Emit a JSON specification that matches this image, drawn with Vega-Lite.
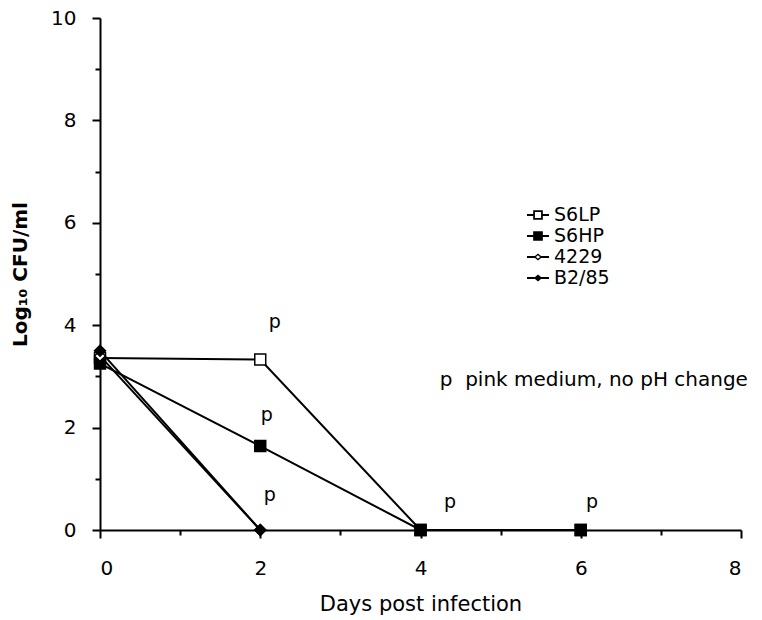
{
  "$schema": "https://vega.github.io/schema/vega-lite/v6.json",
  "width": 641,
  "height": 512,
  "autosize": {"type": "none"},
  "padding": {"left": 100, "top": 18, "right": 21, "bottom": 90},
  "background": "white",
  "config": {
    "view": {"stroke": null},
    "font": "DejaVu Sans",
    "axis": {"domainColor": "black", "domainWidth": 2, "tickColor": "black", "tickWidth": 2, "labelColor": "black", "titleColor": "black", "grid": false, "labelFont": "DejaVu Sans", "titleFont": "DejaVu Sans"}
  },
  "datasets": {
    "series": [
      {"series": "S6LP", "day": 0, "cfu": 3.36},
      {"series": "S6LP", "day": 2, "cfu": 3.33},
      {"series": "S6LP", "day": 4, "cfu": 0},
      {"series": "S6LP", "day": 6, "cfu": 0},
      {"series": "S6HP", "day": 0, "cfu": 3.25},
      {"series": "S6HP", "day": 2, "cfu": 1.64},
      {"series": "S6HP", "day": 4, "cfu": 0},
      {"series": "S6HP", "day": 6, "cfu": 0},
      {"series": "4229", "day": 0, "cfu": 3.4},
      {"series": "4229", "day": 2, "cfu": 0},
      {"series": "B2/85", "day": 0, "cfu": 3.5},
      {"series": "B2/85", "day": 2, "cfu": 0}
    ],
    "notes": [
      {"day": 2.18, "cfu": 4.06, "label": "p"},
      {"day": 2.08, "cfu": 2.25, "label": "p"},
      {"day": 2.12, "cfu": 0.68, "label": "p"},
      {"day": 4.37, "cfu": 0.55, "label": "p"},
      {"day": 6.14, "cfu": 0.55, "label": "p"}
    ],
    "footnote": [
      {"day": 4.24, "cfu": 2.93, "label": "p\u00a0\u00a0pink medium, no pH change"}
    ]
  },
  "resolve": {"scale": {"shape": "independent"}},
  "layer": [
    {
      "data": {"name": "series"},
      "mark": {"type": "line", "color": "black", "strokeWidth": 2},
      "encoding": {
        "x": {"field": "day", "type": "quantitative", "scale": {"domain": [0, 8], "nice": false},
          "axis": {"values": [0,1,2,3,4,5,6,7,8], "format": "d", "labelExpr": "datum.value % 2 === 0 ? datum.label : ''", "tickSize": {"condition": {"test": "datum.value % 2 === 0", "value": 8}, "value": 5}, "labelFontSize": 20, "labelPadding": 20, "title": "Days post infection", "titleFontSize": 21, "titleFontWeight": "normal", "titlePadding": 15}},
        "y": {"field": "cfu", "type": "quantitative", "scale": {"domain": [0, 10], "nice": false},
          "axis": {"values": [0,1,2,3,4,5,6,7,8,9,10], "format": "d", "labelExpr": "datum.value % 2 === 0 ? datum.label : ''", "tickSize": {"condition": {"test": "datum.value % 2 === 0", "value": 8}, "value": 5}, "labelFontSize": 20, "labelPadding": 16, "title": "Log₁₀ CFU/ml", "titleFontSize": 20, "titleFontWeight": "bold", "titlePadding": 20}},
        "detail": {"field": "series", "type": "nominal"}
      }
    },
    {
      "data": {"name": "series"},
      "mark": {"type": "point", "stroke": "black", "strokeWidth": 1.5, "opacity": 1, "size": 120},
      "encoding": {
        "x": {"field": "day", "type": "quantitative"},
        "y": {"field": "cfu", "type": "quantitative"},
        "shape": {"field": "series", "type": "nominal", "scale": {"domain": ["S6LP", "S6HP", "4229", "B2/85"], "range": ["square", "square", "diamond", "diamond"]}, "legend": null},
        "fill": {"field": "series", "type": "nominal", "scale": {"domain": ["S6LP", "S6HP", "4229", "B2/85"], "range": ["white", "black", "white", "black"]}, "legend": null}
      }
    },
    {
      "data": {"name": "series"},
      "mark": {"type": "point", "filled": true, "color": "black", "opacity": 1, "size": 0},
      "encoding": {
        "x": {"field": "day", "type": "quantitative"},
        "y": {"field": "cfu", "type": "quantitative"},
        "shape": {"field": "series", "type": "nominal",
          "scale": {"domain": ["S6LP", "S6HP", "4229", "B2/85"], "range": [
            "M-1,-0.1H-0.44V0.1H-1Z M0.44,-0.1H1V0.1H0.44Z M-0.44,-0.44H0.44V0.44H-0.44Z M-0.28,-0.28V0.28H0.28V-0.28Z",
            "M-1,-0.1H-0.44V0.1H-1Z M0.44,-0.1H1V0.1H0.44Z M-0.44,-0.44H0.44V0.44H-0.44Z",
            "M-1,-0.1H-0.3V0.1H-1Z M0.3,-0.1H1V0.1H0.3Z M0,-0.32L0.38,0L0,0.32L-0.38,0Z M0,-0.16L-0.19,0L0,0.16L0.19,0Z",
            "M-1,-0.1H-0.3V0.1H-1Z M0.3,-0.1H1V0.1H0.3Z M0,-0.32L0.38,0L0,0.32L-0.38,0Z"
          ]},
          "legend": {"title": null, "orient": "none", "legendX": 427, "legendY": 186, "symbolSize": 484, "symbolFillColor": "black", "symbolStrokeWidth": 0, "symbolOpacity": 1, "labelFontSize": 19, "labelColor": "black", "labelFont": "DejaVu Sans", "rowPadding": 0, "labelOffset": 5}}
      }
    },
    {
      "data": {"name": "notes"},
      "mark": {"type": "text", "fontSize": 19, "color": "black", "align": "center", "baseline": "middle"},
      "encoding": {
        "x": {"field": "day", "type": "quantitative"},
        "y": {"field": "cfu", "type": "quantitative"},
        "text": {"field": "label"}
      }
    },
    {
      "data": {"name": "footnote"},
      "mark": {"type": "text", "fontSize": 20, "color": "black", "align": "left", "baseline": "middle"},
      "encoding": {
        "x": {"field": "day", "type": "quantitative"},
        "y": {"field": "cfu", "type": "quantitative"},
        "text": {"field": "label"}
      }
    }
  ]
}
